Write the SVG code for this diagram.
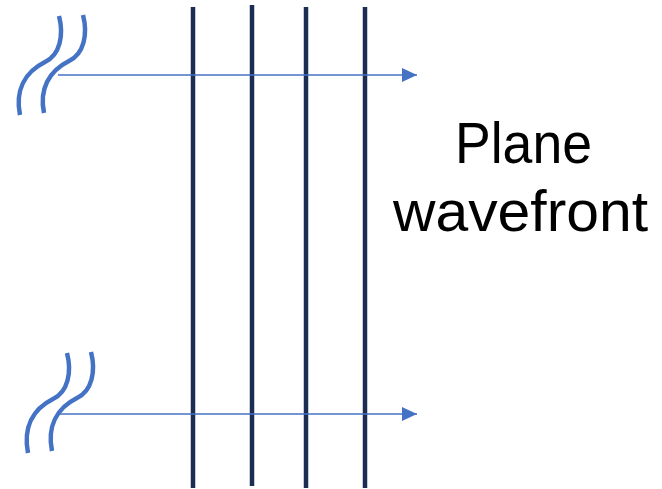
<svg xmlns="http://www.w3.org/2000/svg" width="662" height="489" viewBox="0 0 662 489">
<style>
.front{stroke:#1b2d52;stroke-width:4.5;fill:none}
.wave{stroke:#4472c4;stroke-width:4.5;fill:none;stroke-linecap:butt}
.ray{stroke:#4472c4;stroke-width:1.5;fill:none}
.lbl{font-family:"Liberation Sans",Arial,sans-serif;font-size:57px;fill:#000}
</style>
<defs>
<marker id="ah" markerWidth="15" markerHeight="14" refX="15" refY="7" orient="auto" markerUnits="userSpaceOnUse" viewBox="0 0 15 14">
<path d="M0,0 L15,7 L0,14 z" fill="#4472c4"/>
</marker>
</defs>
<rect width="662" height="489" fill="#fff"/>
<g id="fronts">
<line class="front" x1="193" y1="7" x2="193" y2="488"/>
<line class="front" x1="252" y1="5" x2="252" y2="486"/>
<line class="front" x1="306" y1="7" x2="306" y2="488"/>
<line class="front" x1="365" y1="7" x2="365" y2="488"/>
</g>
<g id="source-top">
<path class="wave" d="M59,16 C64,35 60,55 45,62 C25,72 15,90 20,115"/>
<path class="wave" d="M83,15 C88,34 84,54 69,61 C49,71 39,89 44,113"/>
</g>
<g id="source-bottom">
<path class="wave" d="M67,353 C72,372 68,392 53,399 C33,409 23,427 28,453"/>
<path class="wave" d="M91,352 C96,371 92,391 77,398 C57,408 47,426 52,451"/>
</g>
<g id="connectors">
<line class="ray" x1="58" y1="75" x2="417" y2="75" marker-end="url(#ah)"/>
<line class="ray" x1="58" y1="414" x2="417" y2="414" marker-end="url(#ah)"/>
</g>
<g id="label">
<text class="lbl" x="523.5" y="163" text-anchor="middle" textLength="137" lengthAdjust="spacingAndGlyphs">Plane</text>
<text class="lbl" x="520.5" y="231" text-anchor="middle" textLength="255" lengthAdjust="spacingAndGlyphs">wavefront</text>
</g>
</svg>
